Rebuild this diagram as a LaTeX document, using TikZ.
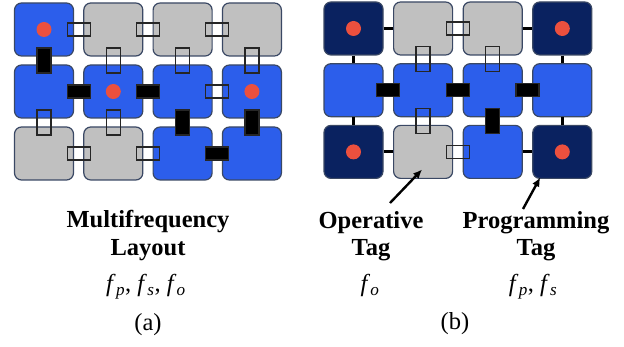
\documentclass[tikz,border=0pt]{standalone}
\usepackage{fontspec}
\setmainfont{Liberation Serif}
\usetikzlibrary{calc,arrows.meta}

\definecolor{tileblue}{RGB}{44,94,235}
\definecolor{tilenavy}{RGB}{10,34,96}
\definecolor{tilegray}{RGB}{192,192,192}
\definecolor{tileedge}{RGB}{58,72,100}
\definecolor{dotred}{RGB}{236,80,62}

\newcommand\fq[1]{\textit{f}\kern0.3pt\textsubscript{\textit{#1}}}

\tikzset{
  tile/.style={draw=tileedge, line width=1.2pt, rounded corners=7pt,
    minimum width=59pt, minimum height=53pt, inner sep=0pt},
  blu/.style={tile, fill=tileblue},
  gry/.style={tile, fill=tilegray},
  nvy/.style={tile, fill=tilenavy},
  hopen/.style={draw=black!85, line width=1.3pt,
    minimum width=23pt, minimum height=13pt, inner sep=0pt},
  vopen/.style={hopen, minimum width=14pt, minimum height=25pt},
  hshut/.style={hopen, fill=black},
  vshut/.style={vopen, fill=black},
  wire/.style={line width=2.8pt},
  dot/.style={circle, fill=dotred, minimum size=15pt, inner sep=0pt},
  arr/.style={line width=2.4pt, -{Latex[length=9pt,width=8pt]}},
  lbl/.style={anchor=base, inner sep=0pt, font=\fontsize{24.5}{29}\selectfont},
}

\begin{document}
\begin{tikzpicture}[x=1pt, y=-1pt]
  \useasboundingbox (0,0) rectangle (624,347);

  % (a) multifrequency layout
  \foreach \r/\row in {1/{blu,gry,gry,gry}, 2/{blu,blu,blu,blu}, 3/{gry,gry,blu,blu}}
    \foreach \st [count=\c] in \row
      \node[\st] (a\r\c) at ({44+69.3*(\c-1)}, {29.5+62*(\r-1)}) {};
  \foreach \t in {a11,a22,a24} \node[dot] (\t-d) at (\t) {};
  \foreach \p/\q/\s in {a11/a12/hopen, a12/a13/hopen, a13/a14/hopen,
      a21/a22/hshut, a22/a23/hshut, a23/a24/hopen,
      a31/a32/hopen, a32/a33/hopen, a33/a34/hshut,
      a11/a21/vshut, a12/a22/vopen, a13/a23/vopen, a14/a24/vopen,
      a21/a31/vopen, a22/a32/vopen, a23/a33/vshut, a24/a34/vshut}
    \node[\s] (\p-\q) at ($(\p)!0.5!(\q)$) {};

  % (b) programming and operative tags
  \foreach \r/\row in {1/{nvy,gry,gry,nvy}, 2/{blu,blu,blu,blu}, 3/{nvy,gry,blu,nvy}}
    \foreach \st [count=\c] in \row
      \node[\st] (b\r\c) at ({353.5+69.6*(\c-1)}, {28.5+61.7*(\r-1)}) {};
  \foreach \p/\q in {b11/b12, b13/b14, b31/b32, b33/b34, b11/b21, b21/b31, b14/b24, b24/b34}
    \draw[wire] (\p) -- (\q);
  \foreach \t in {b11,b14,b31,b34} \node[dot] (\t-d) at (\t) {};
  \foreach \p/\q/\s in {b12/b13/hopen, b21/b22/hshut, b22/b23/hshut, b23/b24/hshut,
      b32/b33/hopen, b12/b22/vopen, b13/b23/vopen, b22/b32/vopen, b23/b33/vshut}
    \node[\s] (\p-\q) at ($(\p)!0.5!(\q)$) {};

  % labels
  \node[lbl] (ml1) at (148,228) {\bfseries Multifrequency};
  \node[lbl] (ml2) at (148,256) {\bfseries Layout};
  \node[lbl] (mf) at (146,292) {\fq{p}, \fq{s}, \fq{o}};
  \node[lbl] (ca) at (148,331) {(a)};

  \node[lbl] (op1) at (371,229) {\bfseries Operative};
  \node[lbl] (op2) at (371,256) {\bfseries Tag};
  \node[lbl] (of) at (370,292) {\fq{o}};
  \node[lbl] (pr1) at (536,229) {\bfseries Programming};
  \node[lbl] (pr2) at (536,256) {\bfseries Tag};
  \node[lbl] (pf) at (533,292) {\fq{p}, \fq{s}};
  \node[lbl] (cb) at (455,330) {(b)};

  \coordinate (opt) at (390,203);
  \coordinate (prt) at (523,209);
  \draw[arr] (opt) -- ($(b32.south)+(-1,-9.5)$);
  \draw[arr] (prt) -- ($(b34.south west)+(8,-1.5)$);
\end{tikzpicture}
\end{document}
